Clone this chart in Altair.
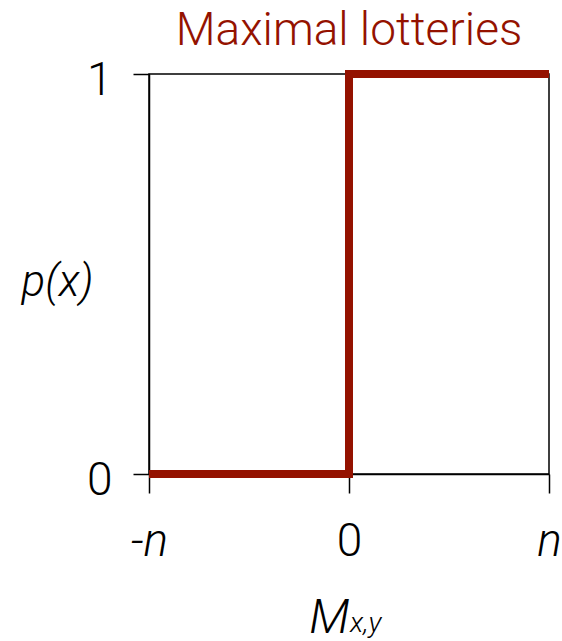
import altair as alt
import pandas as pd

# Step response: probability of x as a function of the margin M_{x,y}
margin = [-1, 0, 0, 1]          # -n, 0, 0, n
prob = [0, 0, 1, 1]
x_ticks = [-1, 0, 1]
x_tick_text = ["-n", "0", "n"]
y_ticks = [0, 1]

RED = "#941200"
FONT = "Roboto"

df = pd.DataFrame({"m": margin, "p": prob, "order": list(range(len(margin)))})

label_map = "{" + ", ".join(f"'{v}': '{t}'" for v, t in zip(x_ticks, x_tick_text)) + "}"

x_axis = alt.Axis(
    values=x_ticks,
    labelExpr=f"{label_map}[datum.value]",
    labelFont=FONT,
    labelFontWeight=300,
    labelFontSize=46,
    labelFontStyle={"condition": {"test": "datum.value != 0", "value": "italic"}, "value": "normal"},
    labelColor="black",
    labelPadding=26,
    labelFlush=False,
    tickSize=19,
    tickWidth=1.5,
    tickColor="black",
    domainColor="black",
    domainWidth=1.5,
    grid=False,
    title="M",
    titleFont=FONT,
    titleFontWeight=300,
    titleFontStyle="italic",
    titleFontSize=48,
    titleColor="black",
    titleAngle=0,
    titleAlign="center",
    titleBaseline="alphabetic",
    titleX=180,
    titleY=158,
)

y_axis = alt.Axis(
    values=y_ticks,
    format="d",
    labelFont=FONT,
    labelFontWeight=300,
    labelFontSize=46,
    labelColor="black",
    labelPadding=21,
    labelBaseline="middle",
    labelOffset=6,
    tickSize=16,
    tickWidth=1.5,
    tickColor="black",
    domainColor="black",
    domainWidth=1.5,
    grid=False,
    title="p(x)",
    titleFont=FONT,
    titleFontWeight=300,
    titleFontStyle="italic",
    titleFontSize=44,
    titleColor="black",
    titleAngle=0,
    titleAlign="center",
    titleBaseline="middle",
    titleX=-92,
    titleY=208,
)

step = alt.Chart(df).mark_line(
    color=RED, strokeWidth=8, strokeJoin="miter", strokeCap="butt", clip=False
).encode(
    x=alt.X("m:Q", scale=alt.Scale(domain=[-1, 1], nice=False, zero=False), axis=x_axis),
    y=alt.Y("p:Q", scale=alt.Scale(domain=[0, 1], nice=False), axis=y_axis),
    order="order:O",
)

# subscript of the x-axis title
subscript = alt.Chart(pd.DataFrame({"t": ["x,y"]})).mark_text(
    font=FONT, fontWeight=300, fontStyle="italic", fontSize=28,
    align="left", baseline="alphabetic", color="black",
).encode(text="t:N", x=alt.value(201), y=alt.value(558))

chart = alt.layer(step, subscript).properties(
    width=400,
    height=400,
    background="white",
    title=alt.TitleParams(
        "Maximal lotteries",
        font=FONT,
        fontWeight=300,
        fontSize=46,
        color=RED,
        anchor="middle",
        offset=2,
    ),
    autosize=alt.AutoSizeParams(type="none"),
    padding={"left": 149, "top": 74, "right": 13, "bottom": 167},
).configure_view(stroke="black", strokeWidth=1.5)

chart.save("out.html", embed_options={"renderer": "svg", "actions": False})
